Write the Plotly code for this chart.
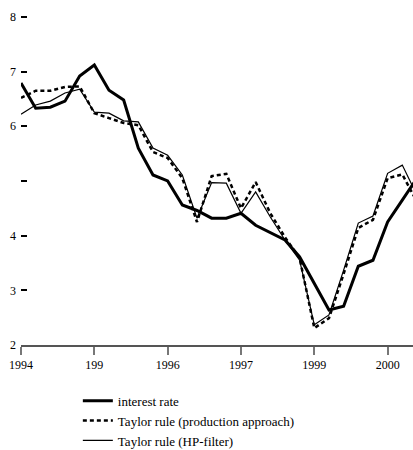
import plotly.graph_objects as go

# quarterly observations (index positions), 5 points between labelled ticks
interest_rate = [6.79, 6.33, 6.35, 6.46, 6.92, 7.12, 6.66, 6.48, 5.60, 5.11,
                 5.00, 4.56, 4.46, 4.32, 4.32, 4.41, 4.19, 4.05, 3.92, 3.61,
                 3.13, 2.64, 2.71, 3.44, 3.55, 4.25, 4.65, 5.05]
taylor_production = [6.52, 6.65, 6.65, 6.72, 6.73, 6.24, 6.15, 6.06, 6.02, 5.53,
                     5.42, 5.05, 4.25, 5.09, 5.13, 4.50, 4.98, 4.41, 3.97, 3.59,
                     2.31, 2.49, 3.30, 4.14, 4.29, 5.05, 5.12, 4.62]
taylor_hp = [6.22, 6.39, 6.46, 6.61, 6.68, 6.26, 6.24, 6.10, 6.08, 5.60,
             5.47, 5.11, 4.32, 4.97, 4.96, 4.41, 4.80, 4.34, 3.92, 3.55,
             2.37, 2.55, 3.37, 4.23, 4.36, 5.14, 5.29, 4.74]
periods = list(range(len(interest_rate)))

x_tick_vals = [0, 5, 10, 15, 20, 25]
x_tick_text = ["1994", "199", "1996", "1997", "1999", "2000"]
y_tick_vals = [2, 3, 4, 5, 6, 7, 8]
y_tick_text = ["2", "3", "4", "", "6", "7", "8"]

SERIF = "'Liberation Serif', 'Times New Roman', Times, serif"

fig = go.Figure()
fig.add_trace(go.Scatter(x=periods, y=interest_rate, mode="lines",
                         name="interest rate",
                         line=dict(color="black", width=3)))
fig.add_trace(go.Scatter(x=periods, y=taylor_production, mode="lines",
                         name="Taylor rule (production approach)",
                         line=dict(color="black", width=2.5, dash="4px,3px")))
fig.add_trace(go.Scatter(x=periods, y=taylor_hp, mode="lines",
                         name="Taylor rule (HP-filter)",
                         line=dict(color="black", width=1.2)))

fig.update_layout(
    width=413, height=450,
    margin=dict(l=21, r=0, t=6, b=105, autoexpand=False),
    paper_bgcolor="white", plot_bgcolor="white",
    font=dict(family=SERIF, size=12, color="black"),
    showlegend=True,
    legend=dict(x=0.145, y=-0.12, xanchor="left", yanchor="top",
                font=dict(family=SERIF, size=13, color="black"),
                tracegroupgap=0, bgcolor="rgba(0,0,0,0)"),
)
fig.update_xaxes(range=[0, 26.73], tickvals=x_tick_vals, ticktext=x_tick_text,
                 showgrid=False, zeroline=False, showline=True,
                 linecolor="#555555", linewidth=1.5,
                 ticks="outside", ticklen=8, tickwidth=1.5, tickcolor="#777777",
                 tickfont=dict(family=SERIF, size=12, color="black"))
fig.update_yaxes(range=[2, 8.2], tickvals=y_tick_vals, ticktext=y_tick_text,
                 showgrid=False, zeroline=False, showline=False,
                 ticks="inside", ticklen=6, tickwidth=1.5, tickcolor="black",
                 ticklabelstandoff=4,
                 tickfont=dict(family=SERIF, size=12, color="black"))

fig.write_html("out.html",
               config={"displayModeBar": False},
               post_script="document.body.style.margin='0';document.body.style.padding='0';")
